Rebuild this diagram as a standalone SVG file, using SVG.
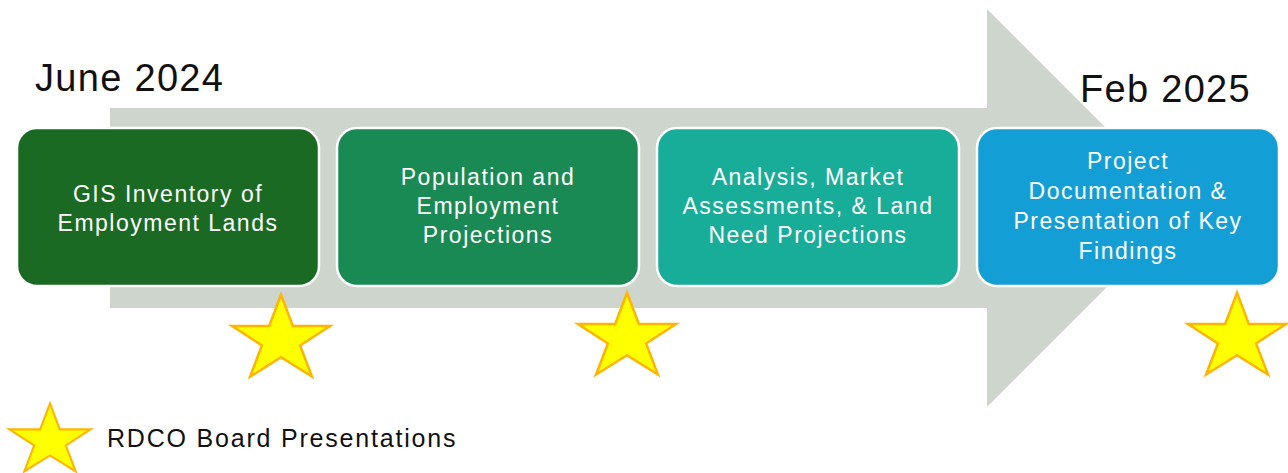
<svg xmlns="http://www.w3.org/2000/svg" width="1288" height="473" viewBox="0 0 1288 473">
<style>
.box{stroke:#FFFFFF;stroke-width:2.5}
.lbl{font-family:"Liberation Sans",Arial,sans-serif;font-size:23px;letter-spacing:1.5px;fill:#FFFFFF;text-anchor:middle}
.date{font-family:"Liberation Sans",Arial,sans-serif;font-size:38px;letter-spacing:1.3px;fill:#111111}
.legend{font-family:"Liberation Sans",Arial,sans-serif;font-size:25px;letter-spacing:1.8px;fill:#111111}
.star{fill:#FFFF00;stroke:#FFB400;stroke-width:2.5;stroke-linejoin:miter}
</style>
<defs>
<polygon id="starShape" class="star" points="0,-45.3 11.8,-14 49,-14 19.1,5.4 30.9,36.6 0,17.3 -30.9,36.6 -19.1,5.4 -49,-14 -11.8,-14"/>
</defs>
<rect width="1288" height="473" fill="#FFFFFF"/>
<g id="timeline-arrow">
<polygon points="110,108 987,108 987,9 1186,208 987,407 987,308 110,308" fill="#CDD5CD"/>
</g>
<g id="date-start"><text class="date" x="35" y="91">June 2024</text></g>
<g id="date-end"><text class="date" x="1080" y="102">Feb 2025</text></g>
<g id="node1">
<rect class="box" x="17" y="128" width="302" height="158" rx="20" fill="#1B6A23"/>
<text class="lbl" x="168" y="202">GIS Inventory of</text>
<text class="lbl" x="168" y="231">Employment Lands</text>
</g>
<g id="node2">
<rect class="box" x="337" y="128" width="302" height="158" rx="20" fill="#1A8A55"/>
<text class="lbl" x="488" y="185">Population and</text>
<text class="lbl" x="488" y="214">Employment</text>
<text class="lbl" x="488" y="243">Projections</text>
</g>
<g id="node3">
<rect class="box" x="657" y="128" width="302" height="158" rx="20" fill="#17AD99"/>
<text class="lbl" x="808" y="185">Analysis, Market</text>
<text class="lbl" x="808" y="214">Assessments, &amp; Land</text>
<text class="lbl" x="808" y="243">Need Projections</text>
</g>
<g id="node4">
<rect class="box" x="977" y="128" width="302" height="158" rx="20" fill="#139FD6"/>
<text class="lbl" x="1128" y="169">Project</text>
<text class="lbl" x="1128" y="199">Documentation &amp;</text>
<text class="lbl" x="1128" y="229">Presentation of Key</text>
<text class="lbl" x="1128" y="259">Findings</text>
</g>
<g id="stars">
<use href="#starShape" transform="translate(281,340)"/>
<use href="#starShape" transform="translate(627,338)"/>
<use href="#starShape" transform="translate(1237,338)"/>
</g>
<g id="legend">
<use href="#starShape" transform="translate(50,441) scale(0.83)"/>
<text class="legend" x="107" y="447">RDCO Board Presentations</text>
</g>
</svg>
